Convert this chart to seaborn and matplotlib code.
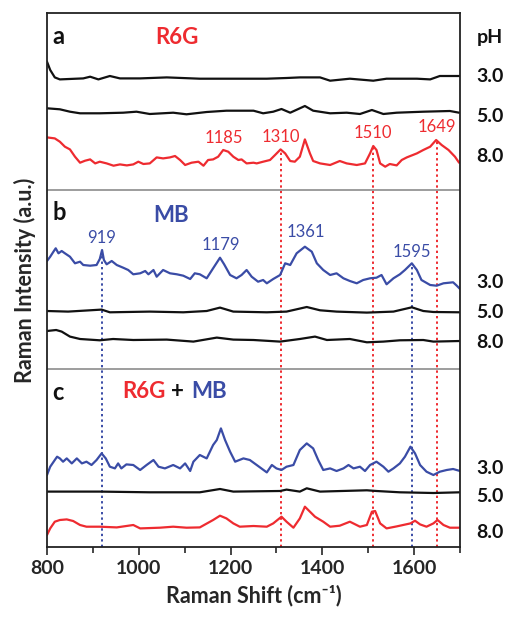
import matplotlib
matplotlib.use("Agg")
import matplotlib.pyplot as plt
import seaborn as sns

# ---- spectra (Raman shift in cm-1, intensity in a.u., each relative to its own baseline) ----
# panel a : R6G
a3_x = [800, 807, 817, 828, 879, 894, 912, 937, 959, 1003, 1061, 1133, 1206, 1279, 1322, 1351,
        1395, 1417, 1460, 1511, 1540, 1606, 1635, 1656, 1700]
a3_y = [19, 10.7, 3.3, 1.3, 2.3, 4, 1.3, 4.7, 2.3, 2.3, 3.3, 2, 2, 2, 2.7, 3.3,
        3.3, 0, 2, 0, 2, 2, 1.3, 4.7, 4.7]

a5_x = [800, 828, 850, 872, 915, 966, 995, 1024, 1075, 1104, 1148, 1191, 1250, 1271, 1293, 1311,
        1330, 1362, 1380, 1417, 1453, 1482, 1508, 1533, 1562, 1620, 1678, 1698]
a5_y = [6.7, 5.7, 3.3, 1.7, 1.7, 2.3, 3.3, 1, 2.3, 0.7, 3, 4.3, 4.3, 1.7, 3.3, 6,
        2.3, 9, 4.3, 1.7, 2.3, 1, 5, 1, 2.3, 3.3, 4, 2.3]

a8_x = [800, 817, 828, 839, 850, 861, 872, 883, 894, 905, 915, 930, 945, 959, 974, 988, 999, 1010,
        1024, 1039, 1053, 1068, 1079, 1090, 1101, 1115, 1130, 1141, 1151, 1162, 1173, 1184, 1195,
        1206, 1217, 1224, 1235, 1250, 1257, 1271, 1286, 1297, 1309, 1319, 1330, 1340, 1351, 1362,
        1373, 1380, 1395, 1417, 1438, 1453, 1475, 1493, 1504, 1511, 1518, 1526, 1537, 1547, 1562,
        1573, 1584, 1606, 1620, 1635, 1648, 1660, 1675, 1689, 1698]
a8_y = [29.3, 28.3, 25, 20, 17.3, 10, 4, 6, 7.3, 3.3, 5, 3.3, 1, 2.3, 1.3, 2.3, 5, 2.7,
        3.3, 9.3, 8.3, 9.3, 10.7, 6.7, 1.7, 4, 5, 1, 6.7, 7.3, 10, 16.7, 15,
        10, 6.7, 7.3, 3.3, 4, 3.3, 5, 6.7, 11.7, 17.3, 13.3, 5.7, 5, 10, 27.3,
        13.3, 5.7, 3.3, 1.7, 5.7, 3.3, 1.7, 3.3, 13.3, 20.7, 16.7, 3.3, 0, 2.7, 1.3,
        6.7, 9.3, 13.3, 16.7, 20, 26.7, 21.7, 16.7, 10, 4]

# panel b : MB
b3_x = [800, 807, 814, 819, 825, 832, 839, 850, 861, 872, 879, 894, 908, 915, 920, 924, 930, 941,
        952, 966, 977, 988, 1003, 1014, 1021, 1032, 1039, 1053, 1068, 1083, 1097, 1112, 1122,
        1133, 1148, 1162, 1177, 1186, 1199, 1213, 1224, 1235, 1246, 1260, 1271, 1279, 1293,
        1308, 1319, 1330, 1344, 1362, 1377, 1388, 1402, 1417, 1431, 1446, 1460, 1475, 1489,
        1504, 1518, 1529, 1540, 1555, 1569, 1580, 1595, 1606, 1616, 1635, 1649, 1664, 1685,
        1693, 1700]
b3_y = [28, 32.3, 37.3, 40.7, 35.7, 38, 35.7, 32.3, 25.7, 27.3, 24, 23.3, 24, 30, 39, 29, 24.7, 28,
        24, 21.3, 19, 14.7, 15.7, 18, 14.7, 19, 12.3, 19, 15.7, 14.7, 13.3, 10, 15.7,
        14.7, 10.7, 20.7, 31.3, 24.7, 14, 10.7, 14, 19, 12.3, 7.3, 9, 5.7, 10,
        14, 25.7, 24, 35.7, 42.3, 37.3, 25.7, 19, 14, 15.7, 10.7, 8, 5.7, 9,
        10.7, 11.3, 14, 4.7, 10.7, 14.7, 19, 25.7, 19, 9, 4, 3.3, 5.7, 6.7,
        3.3, 0]

b5_x = [800, 846, 919, 937, 1024, 1097, 1148, 1177, 1206, 1279, 1322, 1366, 1395, 1431, 1497,
        1555, 1595, 1620, 1642, 1700]
b5_y = [2.3, 1.7, 3.7, 1, 1.7, 1, 2.3, 5.7, 1.7, 1, 1.7, 6.3, 3, 1.7, 0.7,
        1.7, 6, 2.3, 1.3, 1]

b8_x = [800, 820, 832, 850, 872, 915, 944, 988, 1061, 1119, 1170, 1206, 1250, 1308, 1351, 1384,
        1410, 1460, 1497, 1533, 1569, 1620, 1642, 1700]
b8_y = [11.3, 12.3, 10.7, 5.7, 3.3, 2, 3.3, 2.3, 2.7, 0.7, 4.7, 2.7, 2.3, 0.7, 3.3, 5.7,
        2.3, 3.3, 0, 0.7, 2, 2.3, 0.7, 1.3]

# panel c : R6G + MB
c3_x = [800, 807, 817, 822, 828, 835, 843, 854, 865, 876, 886, 897, 908, 919, 928, 937, 948, 955,
        962, 973, 988, 1003, 1017, 1032, 1043, 1057, 1075, 1090, 1101, 1112, 1119, 1133, 1148,
        1162, 1170, 1179, 1188, 1199, 1210, 1228, 1242, 1257, 1279, 1290, 1300, 1311, 1322,
        1337, 1351, 1366, 1380, 1391, 1402, 1417, 1431, 1446, 1457, 1468, 1482, 1493, 1504,
        1518, 1533, 1544, 1555, 1569, 1580, 1592, 1602, 1613, 1627, 1642, 1656, 1671, 1685, 1700]
c3_y = [0.7, 9, 15.7, 19, 17.3, 14, 17.3, 12.3, 17.3, 12.3, 14, 10.7, 15.7, 22.3, 17.3, 9, 7.3, 12.3,
        7.3, 11.3, 10.7, 5.7, 10.7, 15.7, 9, 7.3, 10.7, 7.3, 12.3, 4.7, 14, 20.7, 17.3,
        30.7, 35.7, 47.3, 35.7, 24, 14, 17.3, 15.7, 10.7, 3.3, 10.7, 7.3, 5.7, 9,
        10.7, 25.7, 32.3, 27.3, 15.7, 5.7, 7.3, 4.7, 7.3, 10.7, 7.3, 9, 4.7, 10.7,
        14, 9, 4, 7.3, 12.3, 19, 29, 22.3, 10.7, 4, 0.7, 4, 5.7, 6.7, 4.7]

c5_x = [800, 915, 1024, 1133, 1177, 1206, 1308, 1322, 1351, 1366, 1395, 1497, 1518, 1569, 1642, 1700]
c5_y = [1.7, 1.7, 1, 1, 4.3, 1.7, 2.3, 3.7, 1.7, 5, 1.7, 3, 2.3, 1, 0.3, 1]

c8_x = [800, 807, 817, 828, 843, 857, 872, 886, 915, 952, 988, 1003, 1046, 1075, 1104, 1133, 1162,
        1177, 1191, 1206, 1220, 1250, 1279, 1293, 1311, 1322, 1337, 1351, 1362, 1373, 1384,
        1402, 1417, 1438, 1460, 1482, 1497, 1508, 1515, 1526, 1540, 1562, 1592, 1602, 1613,
        1627, 1642, 1651, 1664, 1678, 1700]
c8_y = [0.7, 7.3, 14, 15.7, 16.3, 14.7, 10.7, 9, 9, 8.3, 10.7, 7.3, 8, 9, 8, 8.3, 15.7,
        20, 17.3, 12.3, 9, 9.7, 9, 12.3, 19, 14, 8, 17.3, 29, 24, 19,
        14, 9, 10, 14, 9, 10.7, 24, 24.7, 12.3, 7.3, 9.3, 12.3, 15, 11.3,
        9, 12.3, 15.7, 10.7, 8, 8]

ph_labels = ["3.0", "5.0", "8.0"]
r6g_peaks = [1185, 1310, 1510, 1649]
mb_peaks = [919, 1179, 1361, 1595]
red_marks = [1310, 1510, 1649]
blue_marks = [919, 1595]

RED = "#ee2b30"
BLUE = "#3a4ca6"
BLACK = "#111111"

sns.set_theme(style="white")
plt.rcParams["font.family"] = ["Lato", "DejaVu Sans"]

fig = plt.figure(figsize=(5.1, 6.18), dpi=100)
ax = fig.add_axes([47 / 510, 71 / 618, 413 / 510, 534 / 618])

# vertical offset of each trace (axis units = pixels from bottom)
traces = [
    (a3_x, a3_y, 466.3, BLACK), (a5_x, a5_y, 432.0, BLACK), (a8_x, a8_y, 380.3, RED),
    (b3_x, b3_y, 258.0, BLUE), (b5_x, b5_y, 233.7, BLACK), (b8_x, b8_y, 204.7, BLACK),
    (c3_x, c3_y, 71.3, BLUE), (c5_x, c5_y, 53.7, BLACK), (c8_x, c8_y, 11.3, RED),
]
for xs, ys, off, col in traces:
    sns.lineplot(x=xs, y=[v + off for v in ys], color=col, lw=1.6, ax=ax, sort=False)

# dotted guide lines from peak tops down to the bottom
for xm, top in zip(red_marks, [397.6, 401.0, 407.0]):
    ax.plot([xm, xm], [0, top], ls=(0, (1.2, 1.6)), color=RED, lw=1.4, zorder=1)
for xm, top in zip(blue_marks, [297.0, 284.0]):
    ax.plot([xm, xm], [0, top], ls=(0, (1.2, 1.6)), color=BLUE, lw=1.4, zorder=1)

# panel separators
for ysep in [357, 178]:
    ax.axhline(ysep, color="#8c8c8c", lw=1.2)

ax.set_xlim(800, 1700)
ax.set_ylim(0, 534)
ax.set_yticks([])
ax.set_xticks([800, 1000, 1200, 1400, 1600])
ax.set_xticks([900, 1100, 1300, 1500, 1700], minor=True)
ax.tick_params(axis="x", which="major", direction="out", length=6, width=1.2, labelsize=14,
               bottom=True, pad=3)
ax.tick_params(axis="x", which="minor", direction="out", length=4, width=1.2, bottom=True)
for lab in ax.get_xticklabels():
    lab.set_fontweight("bold")
for sp in ax.spines.values():
    sp.set_color("#222222")
    sp.set_linewidth(1.3)

ax.set_xlabel("Raman Shift (cm\u207b\u00b9)", fontsize=15.5, fontweight="bold", labelpad=6)
ax.set_ylabel("Raman Intensity (a.u.)", fontsize=15.5, fontweight="bold", labelpad=8)

bold = dict(fontweight="bold", ha="center", va="center")
# panel letters and dye names
ax.text(812, 510, "a", fontsize=17, color=BLACK, ha="left", va="center", fontweight="bold")
ax.text(812, 334, "b", fontsize=17, color=BLACK, ha="left", va="center", fontweight="bold")
ax.text(812, 155, "c", fontsize=17, color=BLACK, ha="left", va="center", fontweight="bold")
ax.text(1084, 510, "R6G", fontsize=16, color=RED, **bold)
ax.text(1071, 332, "MB", fontsize=16, color=BLUE, **bold)
ax.text(963, 155, "R6G", fontsize=16, color=RED, ha="left", va="center", fontweight="bold")
ax.text(1070, 155, "+", fontsize=16, color=BLACK, ha="left", va="center", fontweight="bold")
ax.text(1114, 155, "MB", fontsize=16, color=BLUE, ha="left", va="center", fontweight="bold")

# pH labels on the right
xr = 1765
ax.text(xr, 510, "pH", fontsize=14, color=BLACK, **bold)
for lab, yy in zip(ph_labels, [470, 430, 390]):
    ax.text(xr, yy, lab, fontsize=14, color=BLACK, **bold)
for lab, yy in zip(ph_labels, [264, 234, 205]):
    ax.text(xr, yy, lab, fontsize=14, color=BLACK, **bold)
for lab, yy in zip(ph_labels, [78, 50, 14]):
    ax.text(xr, yy, lab, fontsize=14, color=BLACK, **bold)

# peak annotations
for pk, yy in zip(r6g_peaks, [409, 410, 414, 420]):
    ax.text(pk, yy, str(pk), fontsize=12, color=RED, ha="center", va="center")
for pk, xx, yy in zip(mb_peaks, [919, 1178, 1365, 1595], [309, 302, 315, 295]):
    ax.text(xx, yy, str(pk), fontsize=12, color=BLUE, ha="center", va="center")

fig.savefig("out.png", dpi=100)
